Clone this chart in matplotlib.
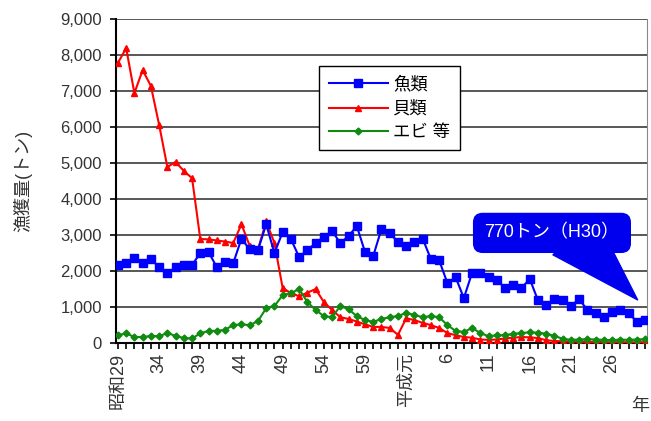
import numpy as np
import matplotlib
matplotlib.use("Agg")
import matplotlib.pyplot as plt
from matplotlib.ticker import FuncFormatter

plt.rcParams['font.family'] = ['Liberation Sans', 'Noto Sans CJK JP']

# 昭和29年(1954) ～ 平成30年(2018)
years = np.arange(1954, 2019)
tick_labels = ['昭和29', '34', '39', '44', '49', '54', '59', '平成元',
               '6', '11', '16', '21', '26']

fish = [2170, 2220, 2360, 2220, 2330, 2110, 1940, 2110, 2170, 2170,
        2500, 2530, 2110, 2250, 2220, 2900, 2600, 2580, 3300, 2500,
        3080, 2890, 2390, 2580, 2780, 2950, 3110, 2780, 2970, 3250,
        2530, 2420, 3170, 3050, 2810, 2700, 2810, 2900, 2330, 2300,
        1670, 1830, 1250, 1950, 1950, 1830, 1750, 1530, 1610, 1530,
        1780, 1190, 1050, 1220, 1190, 1030, 1220, 920, 830, 720,
        860, 920, 830, 600, 640]
shell = [7780, 8190, 6940, 7580, 7140, 6060, 4890, 5030, 4780, 4580,
         2890, 2880, 2850, 2820, 2780, 3300, 2700, 2600, 3380, 2780,
         1530, 1390, 1300, 1400, 1500, 1140, 920, 720, 670, 600,
         520, 450, 450, 420, 230, 690, 640, 560, 500, 420,
         280, 220, 170, 150, 100, 90, 100, 130, 150, 170,
         160, 140, 80, 60, 50, 40, 40, 30, 30, 30,
         20, 30, 20, 20, 30]
shrimp = [220, 270, 170, 170, 200, 190, 280, 200, 140, 130,
          270, 340, 340, 370, 500, 520, 500, 610, 970, 1030,
          1330, 1390, 1500, 1140, 920, 750, 720, 1030, 940, 750,
          640, 590, 670, 720, 750, 840, 780, 720, 750, 720,
          500, 340, 310, 420, 280, 190, 220, 220, 260, 280,
          300, 290, 260, 200, 120, 90, 100, 110, 100, 90,
          80, 100, 90, 100, 110]

fig = plt.figure(figsize=(6.51, 4.21), dpi=100)
ax = fig.add_axes([0.178, 0.185, 0.816, 0.77])

x = np.arange(len(years))
ax.plot(x, fish, color='#0000ff', lw=1.5, marker='s', ms=5.5, label='魚類', zorder=4)
ax.plot(x, shell, color='#ff0000', lw=1.5, marker='^', ms=5, label='貝類', zorder=3)
ax.plot(x, shrimp, color='#108a10', lw=1.5, marker='D', ms=3.5, label='エビ 等', zorder=3)

ax.set_ylim(0, 9000)
ax.set_yticks(np.arange(0, 9001, 1000))
ax.yaxis.set_major_formatter(FuncFormatter(lambda v, p: f'{int(v):,}'))
ax.grid(axis='y', color='#4a4a4a', lw=1.3)
ax.set_axisbelow(True)

ax.set_xlim(-0.25, len(years) - 0.75)
ticks = list(range(len(years)))
labels = [''] * len(years)
for i, t in enumerate(tick_labels):
    labels[i * 5] = t
ax.set_xticks(ticks)
ax.set_xticklabels(labels, rotation=90, va='top', ha='center', fontsize=13)

ax.tick_params(axis='both', direction='out', length=4, width=1.2,
               labelcolor='#333333')
ax.tick_params(axis='y', labelsize=12, pad=6)
ax.tick_params(axis='x', pad=3)
for s in ['left', 'bottom']:
    ax.spines[s].set_linewidth(1.5)
    ax.spines[s].set_color('black')
ax.spines['top'].set_visible(False)
ax.spines['right'].set_color('#888888')

ax.set_ylabel('漁獲量(トン)', fontsize=13, color='#333333')
ax.yaxis.set_label_coords(-0.158, 0.5)
fig.text(640 / 651, 1 - 407 / 421, '年', fontsize=13, color='#333333',
         ha='center', va='center')

leg = ax.legend(loc='upper left', bbox_to_anchor=(0.383, 0.855), fancybox=False,
                edgecolor='black', framealpha=1, fontsize=12.5, handlelength=3.4,
                borderpad=0.55, labelspacing=0.45, handletextpad=0.3,
                borderaxespad=0)
leg.get_frame().set_linewidth(1.0)

# 吹き出し
ax.annotate('770トン（H30）', xy=(x[-1] - 0.9, 1200), xytext=(52.7, 3060),
            ha='center', va='center', color='white', fontsize=13,
            bbox=dict(boxstyle='round,pad=0.6,rounding_size=0.5', fc='#0000ee', ec='#0000ee'),
            arrowprops=dict(arrowstyle='wedge,tail_width=3.2,shrink_factor=0.5',
                            fc='#0000ee', ec='#0000ee', relpos=(0.66, 0.4),
                            shrinkA=0, shrinkB=0, patchA=None),
            zorder=6)

fig.savefig('out.png', dpi=100)
